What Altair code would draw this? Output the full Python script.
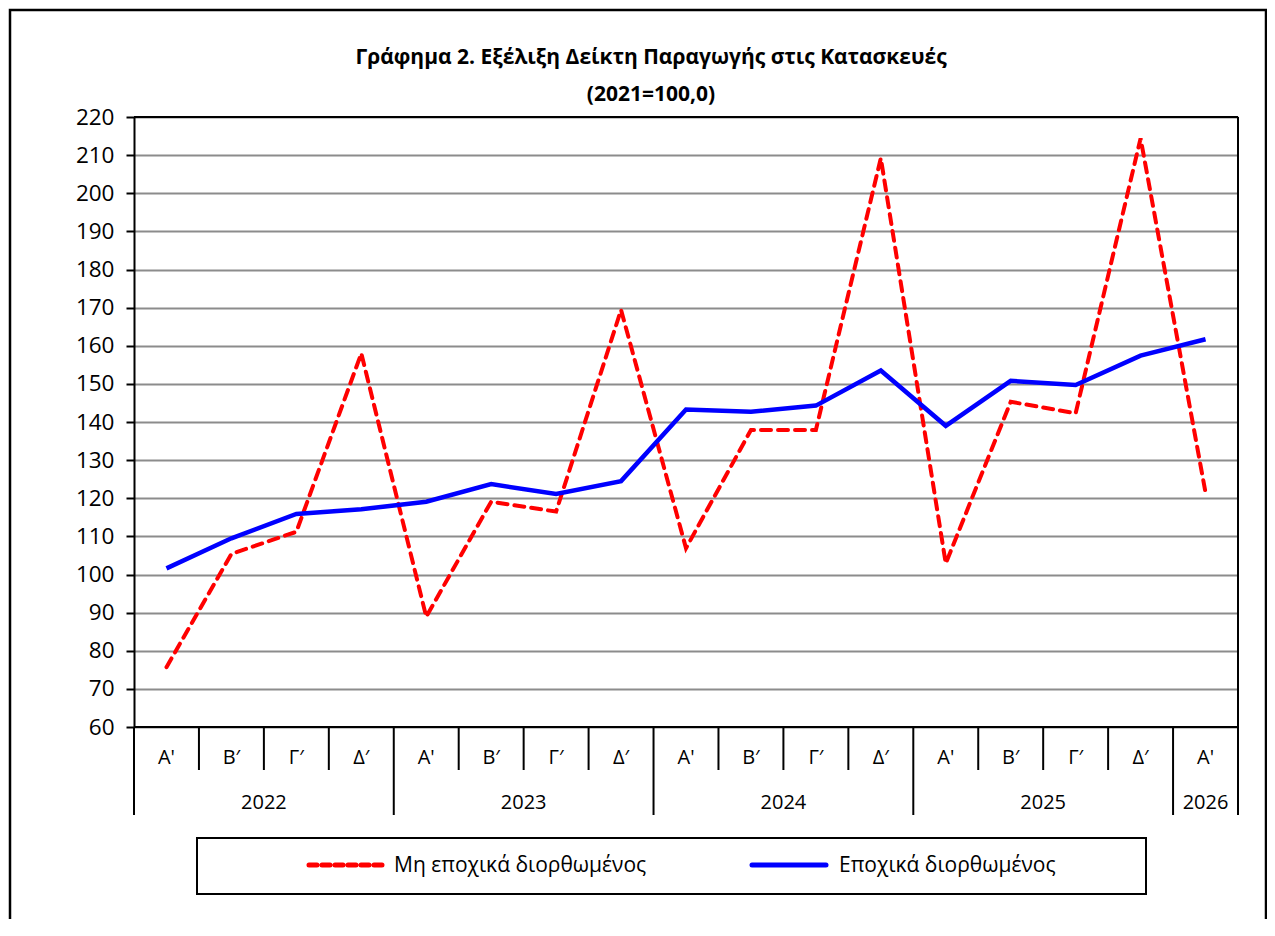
import altair as alt
import pandas as pd

# ---------------- data ----------------
QUARTERS = ["Α'", "Β′", "Γ′", "Δ′", "Α'", "Β′", "Γ′", "Δ′", "Α'", "Β′", "Γ′", "Δ′",
            "Α'", "Β′", "Γ′", "Δ′", "Α'"]
YEARS = ["2022", "2023", "2024", "2025", "2026"]
YEAR_QUARTERS = [4, 4, 4, 4, 1]
NSA = [75.7, 105.4, 111.2, 158.0, 88.9, 119.1, 116.5, 169.4, 106.9, 137.9, 137.9,
       209.2, 102.9, 145.3, 142.3, 214.4, 121.5]
SA = [101.6, 109.5, 115.9, 117.1, 119.1, 123.7, 121.1, 124.5, 143.3, 142.7, 144.3,
      153.5, 139.0, 150.8, 149.7, 157.4, 161.7]
SERIES = ["Μη εποχικά διορθωμένος", "Εποχικά διορθωμένος"]
TITLE = ["Γράφημα 2. Εξέλιξη  Δείκτη  Παραγωγής  στις  Κατασκευές", "(2021=100,0)"]
Y_TICKS = list(range(60, 221, 10))

# ---------------- tables ----------------
n = len(QUARTERS)
df = pd.DataFrame({"pos": [i + 0.5 for i in range(n)], "q": QUARTERS, "nsa": NSA, "sa": SA})

year_bounds = [0]
for k in YEAR_QUARTERS:
    year_bounds.append(year_bounds[-1] + k)
year_mid = [(year_bounds[i] + year_bounds[i + 1]) / 2 for i in range(len(YEARS))]
df_years = pd.DataFrame({"mid": year_mid, "year": YEARS})
df_ybound = pd.DataFrame({"b": year_bounds})
df_qbound = pd.DataFrame({"b": [b for b in range(1, n) if b not in year_bounds]})
df_h = pd.DataFrame({"v": [Y_TICKS[0], Y_TICKS[-1]], "x0": [0, 0], "x1": [n, n]})
df_right = pd.DataFrame({"b": [n]})

W, H = 1104, 610
FONT = "Open Sans"
RED, BLUE = "#FF0000", "#0000FF"

xs = alt.Scale(domain=[0, n], nice=False, zero=False)
ys = alt.Scale(domain=[60, 220], nice=False, zero=False)
YAX = alt.Axis(values=Y_TICKS, grid=True, gridColor="#8c8c8c", gridWidth=2,
               domain=True, domainColor="black", domainWidth=2,
               ticks=True, tickColor="black", tickSize=8, tickWidth=2,
               labelFont=FONT, labelFontSize=22.5, labelColor="black", labelPadding=12,
               title=None)

one = pd.DataFrame({"a": [0]})

frame = alt.Chart(one).mark_rect(fill=None, stroke="black", strokeWidth=2.5).encode(
    x=alt.value(-124), x2=alt.value(W + 28), y=alt.value(-107), y2=alt.value(H + 230))

hlines = alt.Chart(df_h).mark_rule(color="black", strokeWidth=2).encode(
    y=alt.Y("v:Q", scale=ys, axis=YAX),
    x=alt.X("x0:Q", scale=xs, axis=None), x2="x1:Q")

right_border = alt.Chart(df_right).mark_rule(color="black", strokeWidth=2).encode(
    x=alt.X("b:Q", scale=xs, axis=None), y=alt.value(0), y2=alt.value(H + 88))

qsep = alt.Chart(df_qbound).mark_rule(color="black", strokeWidth=2).encode(
    x=alt.X("b:Q", scale=xs, axis=None), y=alt.value(H), y2=alt.value(H + 43))

ysep = alt.Chart(df_ybound).mark_rule(color="black", strokeWidth=2).encode(
    x=alt.X("b:Q", scale=xs, axis=None), y=alt.value(H), y2=alt.value(H + 88))

red_line = alt.Chart(df).mark_line(color=RED, strokeWidth=4, strokeDash=[10, 7],
                                   strokeCap="round").encode(
    x=alt.X("pos:Q", scale=xs, axis=None), y=alt.Y("nsa:Q", scale=ys, axis=YAX))

blue_line = alt.Chart(df).mark_line(color=BLUE, strokeWidth=4.5).encode(
    x=alt.X("pos:Q", scale=xs, axis=None), y=alt.Y("sa:Q", scale=ys, axis=YAX))

qlabels = alt.Chart(df).mark_text(font=FONT, fontSize=20, color="black", baseline="middle").encode(
    x=alt.X("pos:Q", scale=xs, axis=None), y=alt.value(H + 31), text="q:N")

ylabels = alt.Chart(df_years).mark_text(font=FONT, fontSize=20, color="black", baseline="middle").encode(
    x=alt.X("mid:Q", scale=xs, axis=None), y=alt.value(H + 76), text="year:N")

title1 = alt.Chart(pd.DataFrame({"t": [TITLE[0]]})).mark_text(
    font=FONT, fontSize=21, fontWeight="bold", color="black", baseline="middle", align="center").encode(
    x=alt.value(517), y=alt.value(-59), text="t:N")
title2 = alt.Chart(pd.DataFrame({"t": [TITLE[1]]})).mark_text(
    font=FONT, fontSize=21, fontWeight="bold", color="black", baseline="middle", align="center").encode(
    x=alt.value(517), y=alt.value(-22), text="t:N")

# legend (manual)
leg_box = alt.Chart(one).mark_rect(fill="white", stroke="black", strokeWidth=2).encode(
    x=alt.value(63), x2=alt.value(1012), y=alt.value(721), y2=alt.value(777))
leg_red = alt.Chart(one).mark_rule(color=RED, strokeWidth=5, strokeDash=[8, 5], strokeCap="round").encode(
    x=alt.value(175), x2=alt.value(250), y=alt.value(748))
leg_blue = alt.Chart(one).mark_rule(color=BLUE, strokeWidth=5, strokeCap="round").encode(
    x=alt.value(618), x2=alt.value(692), y=alt.value(748))
leg_t1 = alt.Chart(pd.DataFrame({"t": [SERIES[0]]})).mark_text(
    font=FONT, fontSize=21, color="black", align="left", baseline="middle").encode(
    x=alt.value(260), y=alt.value(749), text="t:N")
leg_t2 = alt.Chart(pd.DataFrame({"t": [SERIES[1]]})).mark_text(
    font=FONT, fontSize=21, color="black", align="left", baseline="middle").encode(
    x=alt.value(705), y=alt.value(749), text="t:N")

chart = alt.layer(
    frame, hlines, right_border, qsep, ysep, red_line, blue_line, qlabels, ylabels,
    title1, title2, leg_box, leg_red, leg_blue, leg_t1, leg_t2
).properties(
    width=W, height=H,
    autosize=alt.AutoSizeParams(type="none"),
    padding={"left": 126, "top": 109, "right": 29, "bottom": 192},
).configure_view(stroke=None).configure(background="white")

chart.save("out.html", embed_options={"renderer": "svg", "actions": False})
